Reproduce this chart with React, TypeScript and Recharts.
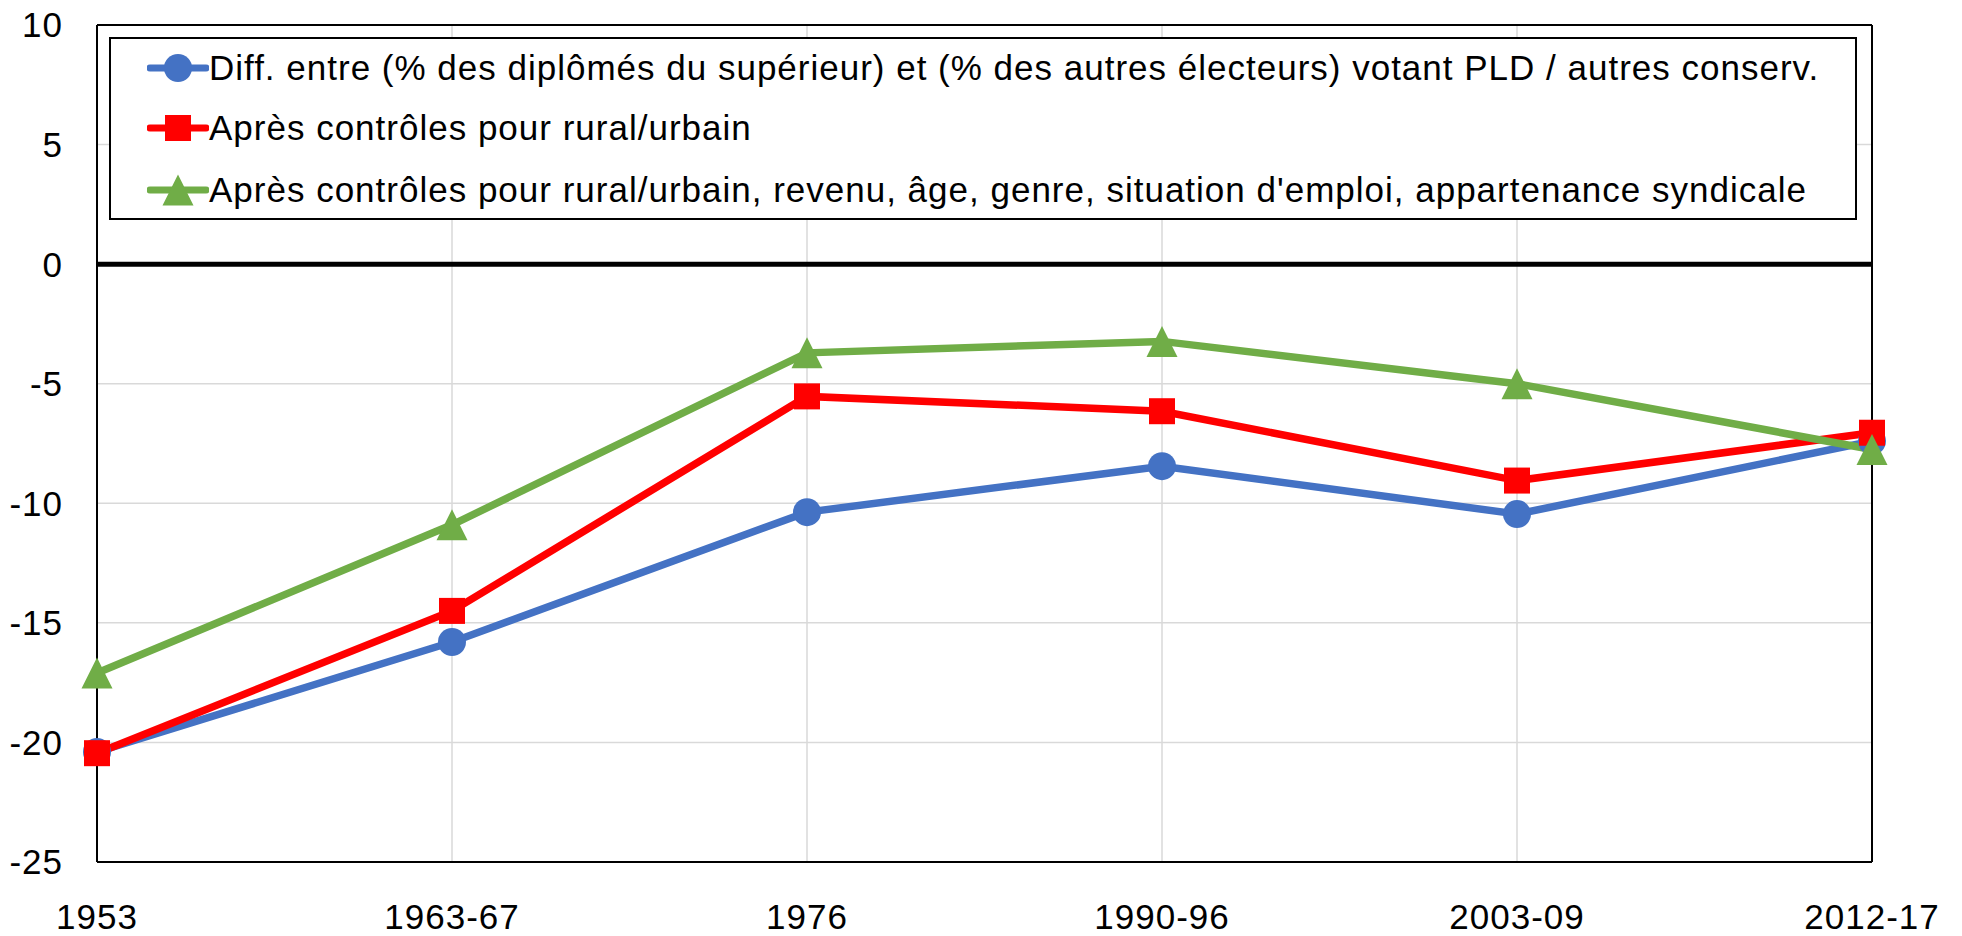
import React from 'react';
import { LineChart, Line, XAxis, YAxis, CartesianGrid, ReferenceLine, Legend } from 'recharts';

const categories = ['1953', '1963-67', '1976', '1990-96', '2003-09', '2012-17'];
const diffBrut = [-20.4, -15.8, -10.37, -8.45, -10.45, -7.4];
const apresRural = [-20.45, -14.5, -5.53, -6.15, -9.05, -7.05];
const apresControles = [-17.1, -10.9, -3.71, -3.23, -5.0, -7.75];
const seriesNames = [
  'Diff. entre (% des diplômés du supérieur) et (% des autres électeurs) votant PLD / autres conserv.',
  'Après contrôles pour rural/urbain',
  "Après contrôles pour rural/urbain, revenu, âge, genre, situation d'emploi, appartenance syndicale",
];
const seriesKeys = ['brut', 'rural', 'controles'];
const seriesColors = ['#4472C4', '#FF0000', '#70AD47'];
const seriesShapes = ['circle', 'square', 'triangle'];
const yTicks = [10, 5, 0, -5, -10, -15, -20, -25];

const data = categories.map((cat, i) => ({
  cat,
  brut: diffBrut[i],
  rural: apresRural[i],
  controles: apresControles[i],
}));

const FONT = '"Liberation Sans", Arial, sans-serif';
const FS = 35;
const LS = 1;

function Marker({ shape, cx, cy, color }: { shape: string; cx: number; cy: number; color: string }) {
  if (shape === 'circle') return <circle cx={cx} cy={cy} r={14} fill={color} />;
  if (shape === 'square') return <rect x={cx - 13} y={cy - 13} width={26} height={26} fill={color} />;
  return (
    <polygon
      points={`${cx},${cy - 15.5} ${cx + 15.5},${cy + 15.5} ${cx - 15.5},${cy + 15.5}`}
      fill={color}
    />
  );
}

const makeDot = (shape: string, color: string) => (props: any) => {
  const { cx, cy, index } = props;
  if (cx == null || cy == null) return <g key={`d-${index}`} />;
  return (
    <g key={`d-${shape}-${index}`}>
      <Marker shape={shape} cx={cx} cy={cy} color={color} />
    </g>
  );
};

const rowCenters = [31, 91, 153];

const LegendContent = () => (
  <div
    style={{
      position: 'relative',
      width: 1748,
      height: 183,
      boxSizing: 'border-box',
      border: '2px solid #000',
      background: '#fff',
      fontFamily: FONT,
      fontSize: FS,
      letterSpacing: LS,
      color: '#000',
    }}
  >
    {seriesNames.map((name, i) => (
      <div key={name} style={{ position: 'absolute', left: 0, top: rowCenters[i] - 2 - 25, height: 50, width: '100%' }}>
        <svg width={62} height={50} style={{ position: 'absolute', left: 36, top: 0 }}>
          <line x1={3} y1={25} x2={59} y2={25} stroke={seriesColors[i]} strokeWidth={7} strokeLinecap="round" />
          <Marker shape={seriesShapes[i]} cx={31} cy={25} color={seriesColors[i]} />
        </svg>
        <div style={{ position: 'absolute', left: 98, top: 0, height: 50, lineHeight: '50px', whiteSpace: 'nowrap' }}>
          {name}
        </div>
      </div>
    ))}
  </div>
);

export default function App() {
  return (
    <div style={{ position: 'absolute', left: 0, top: 0, width: 1962, height: 936, background: '#fff' }}>
      <LineChart width={1962} height={936} data={data} margin={{ top: 25, right: 90, bottom: 0, left: 0 }}>
        <CartesianGrid stroke="#d9d9d9" strokeWidth={1.5} vertical horizontal />
        <XAxis
          dataKey="cat"
          scale="point"
          interval={0}
          height={74}
          tickSize={0}
          tickMargin={42}
          axisLine={{ stroke: '#000', strokeWidth: 2 }}
          tickLine={false}
          tick={{ fill: '#000', fontSize: FS, fontFamily: FONT, letterSpacing: LS }}
        />
        <YAxis
          type="number"
          domain={[-25, 10]}
          ticks={yTicks}
          interval={0}
          width={97}
          tickSize={0}
          tickMargin={34}
          axisLine={{ stroke: '#000', strokeWidth: 2 }}
          tickLine={false}
          tick={{ fill: '#000', fontSize: FS, fontFamily: FONT, letterSpacing: LS }}
        />
        <ReferenceLine y={10} stroke="#000" strokeWidth={2} />
        <ReferenceLine x="2012-17" stroke="#000" strokeWidth={2} />
        <ReferenceLine y={0} stroke="#000" strokeWidth={5} />
        {seriesKeys.map((k, i) => (
          <Line
            key={k}
            type="linear"
            dataKey={k}
            name={seriesNames[i]}
            stroke={seriesColors[i]}
            strokeWidth={7.5}
            dot={makeDot(seriesShapes[i], seriesColors[i])}
            activeDot={false}
            isAnimationActive={false}
          />
        ))}
        <Legend
          layout="horizontal"
          verticalAlign="middle"
          align="center"
          content={<LegendContent />}
          wrapperStyle={{ position: 'absolute', left: 109, top: 37, width: 1748, height: 183 }}
        />
      </LineChart>
    </div>
  );
}
